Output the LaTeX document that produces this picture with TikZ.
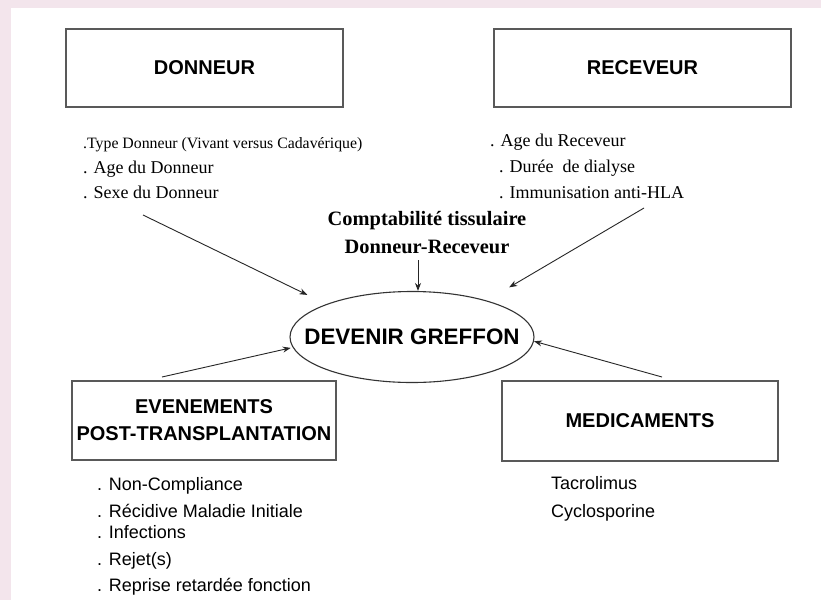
\documentclass[tikz,border=0pt]{standalone}
\usepackage{fontspec}
\setmainfont{Liberation Serif}
\setsansfont{Liberation Sans}
\usepackage{tikz}
\usetikzlibrary{arrows.meta}
\usetikzlibrary{shapes.geometric}

\definecolor{pagepink}{RGB}{243,229,236}
\tikzset{
  bigbox/.style={draw=black!65,line width=1.4pt,fill=white,inner sep=0pt,align=center,
    font=\sffamily\bfseries\fontsize{20}{27}\selectfont},
  itemS/.style={anchor=base west,inner sep=0pt,font=\fontsize{18}{22}\selectfont},
  itemA/.style={anchor=base west,inner sep=0pt,font=\sffamily\fontsize{18}{22}\selectfont},
  midtext/.style={anchor=base,inner sep=0pt,font=\bfseries\fontsize{20.4}{24}\selectfont},
  feed/.style={-{Stealth[length=8pt,width=6pt]},line width=0.9pt,black!85},
}

\begin{document}
\begin{tikzpicture}[x=1pt,y=-1pt]
        \useasboundingbox (0,0) rectangle (821,600);
        \fill[pagepink] (0,0) rectangle (821,600);
        \fill[white] (11,8) rectangle (821,600);

        % the four boxes
        \node[bigbox,minimum width=277pt,minimum height=78pt] (donneur) at (204.5,68) {DONNEUR};
        \node[bigbox,minimum width=297pt,minimum height=78pt] (receveur) at (642.5,68) {RECEVEUR};
        \node[bigbox,minimum width=264pt,minimum height=79pt] (evenements) at (204,420.5) {EVENEMENTS\\POST-TRANSPLANTATION};
        \node[bigbox,minimum width=276pt,minimum height=80pt] (medicaments) at (640,421) {MEDICAMENTS};

        % centre
        \node[draw=black!80,line width=1.1pt,ellipse,minimum width=244pt,minimum height=91pt,inner sep=0pt,
          font=\sffamily\bfseries\fontsize{22.4}{26}\selectfont] (devenir) at (412,337) {\makebox[0pt][c]{DEVENIR GREFFON}};

        % donneur
        \node[itemS,font=\fontsize{15.8}{20}\selectfont] (typeD) at (83,148) {.Type Donneur (Vivant versus Cadavérique)};
        \node[itemS] (ageD) at (83,173) {. Age du Donneur};
        \node[itemS] (sexeD) at (83,198) {. Sexe du Donneur};

        % receveur
        \node[itemS] (ageR) at (490,146) {. Age du Receveur};
        \node[itemS] (dialyse) at (499,172) {. Durée\ \ de dialyse};
        \node[itemS] (hla) at (499,198) {. Immunisation anti-HLA};

        \node[midtext] (compat) at (427,225) {Comptabilité tissulaire};
        \node[midtext] (paire) at (427,253) {Donneur-Receveur};

        % evenements
        \node[itemA] (nonc) at (97,490) {. Non-Compliance};
        \node[itemA] (recid) at (97,517) {. Récidive Maladie Initiale};
        \node[itemA] (infect) at (97,538) {. Infections};
        \node[itemA] (rejet) at (97,565) {. Rejet(s)};
        \node[itemA] (reprise) at (97,591) {. Reprise retardée fonction};

        % medicaments
        \node[itemA] (tacro) at (551,489) {Tacrolimus};
        \node[itemA] (ciclo) at (551,517) {Cyclosporine};

        % arrows
        \coordinate (fromD) at (143,215);
        \coordinate (fromR) at (644,208);
        \coordinate (fromC) at (418,260);
        \coordinate (fromE) at (162,377);
        \coordinate (fromM) at (662,377);

        \draw[feed,shorten >=21pt] (fromD) -- (devenir.159);
        \draw[feed,shorten >=26pt] (fromR) -- (devenir.26);
        \draw[feed] (fromC) -- (fromC |- devenir.north);
        \draw[feed,shorten >=2pt] (fromE) -- (devenir.185);
        \draw[feed] (fromM) -- (devenir.358);
\end{tikzpicture}
\end{document}
